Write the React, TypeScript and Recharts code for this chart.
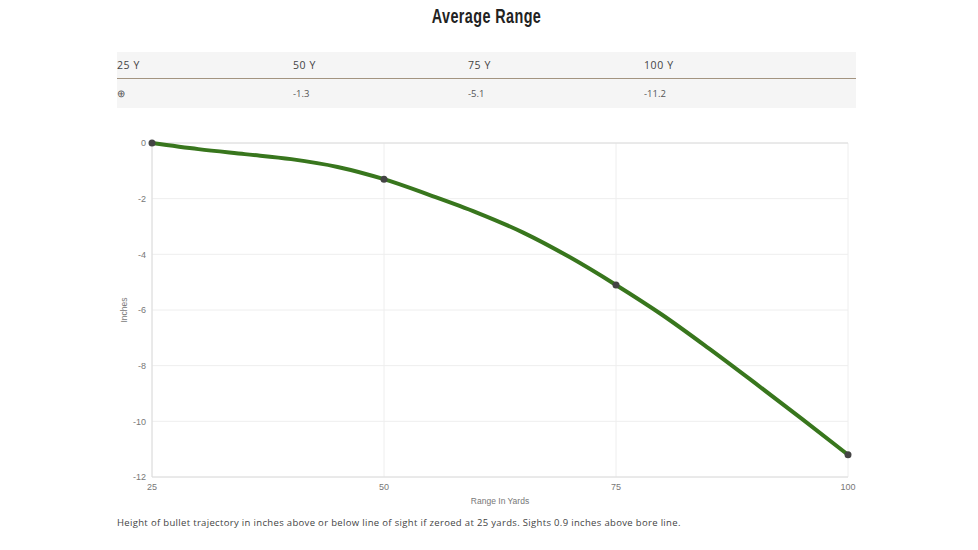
import { LineChart, Line, XAxis, YAxis, CartesianGrid, ReferenceLine } from 'recharts'

// table values, these get the round markers
const RANGES = [25, 50, 75, 100]
const DROP = [0, -1.3, -5.1, -11.2]
// trajectory every 5 yards
const CURVE_RANGES = [25, 30, 35, 40, 45, 50, 55, 60, 65, 70, 75, 80, 85, 90, 95, 100]
const CURVE_DROP = [0, -0.22, -0.4, -0.58, -0.86, -1.3, -1.88, -2.5, -3.22, -4.1, -5.1, -6.18, -7.38, -8.63, -9.9, -11.2]
const Y_TICKS = [0, -2, -4, -6, -8, -10, -12]
const HEADERS = ['25 Y', '50 Y', '75 Y', '100 Y']
const ROW_VALUES = ['⊕', '-1.3', '-5.1', '-11.2']

const data = CURVE_RANGES.map((range, i) => {
  const idx = RANGES.indexOf(range)
  return { range, curve: CURVE_DROP[i], drop: idx >= 0 ? DROP[idx] : null }
})

const BODY_FONT = '"Open Sans", sans-serif'
const AXIS_FONT = '"Liberation Sans", Arial, sans-serif'
const cellLeft = [117, 293, 468, 644]

export default function App() {
  return (
    <div style={{ position: 'absolute', left: 0, top: 0, width: 978, height: 550, background: '#fff', overflow: 'hidden' }}>
      <div
        style={{
          position: 'absolute',
          left: 0,
          width: 973,
          top: 3,
          textAlign: 'center',
          fontFamily: '"Liberation Sans", sans-serif',
          fontWeight: 700,
          fontSize: 21,
          lineHeight: '26px',
          letterSpacing: 0.6,
          color: '#222',
          transform: 'scaleX(0.685)',
        }}
      >
        Average Range
      </div>

      <div style={{ position: 'absolute', left: 117, top: 52, width: 739, height: 56, background: '#f5f5f5' }} />
      <div style={{ position: 'absolute', left: 117, top: 78, width: 739, height: 1, background: '#a39480' }} />
      {HEADERS.map((h, i) => (
        <div
          key={h}
          style={{ position: 'absolute', left: cellLeft[i], top: 57, fontFamily: BODY_FONT, fontSize: 10.5, lineHeight: '16px', letterSpacing: 0.6, color: '#444' }}
        >
          {h}
        </div>
      ))}
      {ROW_VALUES.map((v, i) => (
        <div
          key={v}
          style={{ position: 'absolute', left: cellLeft[i], top: 86, fontFamily: BODY_FONT, fontSize: 9.5, lineHeight: '16px', color: '#444', opacity: 0.9 }}
        >
          {v}
        </div>
      ))}

      <div style={{ position: 'absolute', left: 0, top: 0 }}>
        <LineChart
          width={978}
          height={550}
          data={data}
          margin={{ top: 143, right: 130, bottom: 33, left: 112 }}
        >
          <CartesianGrid stroke="#eeeeee" strokeWidth={1} />
          <XAxis
            dataKey="range"
            type="number"
            domain={[25, 100]}
            ticks={RANGES}
            height={40}
            tickLine={false}
            axisLine={{ stroke: '#dcdcdc' }}
            tick={{ fontSize: 9, fill: '#777', fontFamily: AXIS_FONT }}
            tickMargin={1}
            label={{ value: 'Range In Yards', position: 'insideBottom', offset: 13, fontSize: 8.5, fill: '#777', fontFamily: AXIS_FONT }}
          />
          <YAxis
            type="number"
            domain={[-12, 0]}
            ticks={Y_TICKS}
            width={40}
            tickLine={false}
            axisLine={{ stroke: '#dcdcdc' }}
            tick={{ fontSize: 9, fill: '#777', fontFamily: AXIS_FONT }}
            tickMargin={0}
            label={{ value: 'Inches', angle: -90, position: 'insideLeft', offset: 12, fontSize: 8.5, fill: '#777', fontFamily: AXIS_FONT, style: { textAnchor: 'middle' } }}
          />
          <ReferenceLine y={0} stroke="#dcdcdc" />
          <Line
            dataKey="curve"
            type="monotone"
            stroke="#38761d"
            strokeWidth={4}
            dot={false}
            isAnimationActive={false}
          />
          <Line
            dataKey="drop"
            stroke="none"
            connectNulls
            dot={{ r: 3.5, fill: '#444', stroke: '#444', strokeWidth: 0 }}
            isAnimationActive={false}
          />
        </LineChart>
      </div>

      <div
        style={{ position: 'absolute', left: 117, top: 515, fontFamily: BODY_FONT, fontSize: 9.5, lineHeight: '16px', letterSpacing: 0.33, color: '#444' }}
      >
        Height of bullet trajectory in inches above or below line of sight if zeroed at 25 yards. Sights 0.9 inches above bore line.
      </div>
    </div>
  )
}
